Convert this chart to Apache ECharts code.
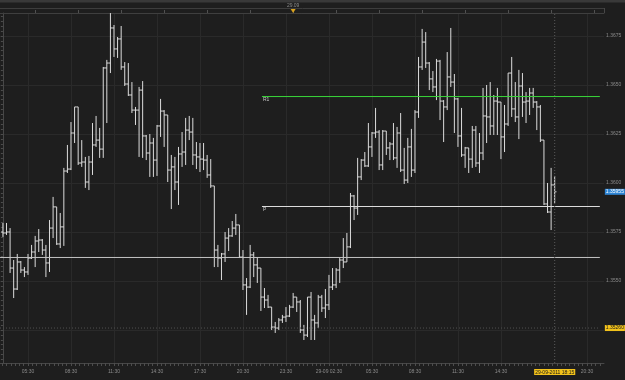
<!DOCTYPE html>
<html><head><meta charset="utf-8">
<script src="https://cdn.jsdelivr.net/npm/echarts@6/dist/echarts.min.js"></script>
<style>html,body{margin:0;padding:0;background:#1e1e1e;}#c{width:625px;height:380px;}</style>
</head><body><div id="c"></div>
<script>
// 15-minute bars, first bar 28-09-2011 03:45 (index 0)
const opens = [
1.35750,1.35745,1.35750,1.35566,1.35459,1.35597,1.35556,1.35546,1.35617,1.35648,
1.35704,1.35709,1.35658,1.35592,1.35770,1.35878,1.35689,1.35776,1.36061,1.36071,
1.36255,1.36388,1.36102,1.36107,1.36005,1.36107,1.36194,1.36219,1.36173,1.36587,
1.36612,1.36791,1.36684,1.36735,1.36592,1.36505,1.36449,1.36372,1.36372,1.36474,
1.36240,1.36153,1.36204,1.36117,1.36291,1.36367,1.36347,1.36066,1.36082,1.36005,
1.36148,1.36158,1.36270,1.36260,1.36143,1.36133,1.36122,1.36117,1.36041,1.35985,
1.35658,1.35617,1.35638,1.35719,1.35730,1.35770,1.35786,1.35622,1.35480,1.35469,
1.35633,1.35582,1.35566,1.35418,1.35403,1.35367,1.35265,1.35260,1.35301,1.35316,
1.35321,1.35367,1.35418,1.35393,1.35250,1.35224,1.35418,1.35301,1.35286,1.35418,
1.35362,1.35378,1.35469,1.35480,1.35556,1.35607,1.35597,1.35674,1.35934,1.35872,
1.36031,1.36117,1.36087,1.36184,1.36255,1.36260,1.36092,1.36265,1.36179,1.36199,
1.36128,1.36255,1.36066,1.36015,1.36184,1.36066,1.36362,1.36592,1.36719,1.36612,
1.36531,1.36490,1.36622,1.36418,1.36388,1.36541,1.36515,1.36429,1.36240,1.36143,
1.36179,1.36122,1.36270,1.36102,1.36153,1.36342,1.36337,1.36291,1.36418,1.36413,
1.36235,1.36301,1.36561,1.36378,1.36337,1.36495,1.36413,1.36418,1.36459,1.36413,
1.36388,1.36219,1.35893,1.35852,1.35990];
const highs = [
1.35796,1.35796,1.35770,1.35607,1.35638,1.35602,1.35571,1.35638,1.35684,1.35730,
1.35765,1.35714,1.35684,1.35811,1.35929,1.35878,1.35847,1.36077,1.36194,1.36311,
1.36388,1.36388,1.36219,1.36133,1.36138,1.36306,1.36342,1.36281,1.36592,1.36628,
1.36867,1.36806,1.36745,1.36801,1.36617,1.36612,1.36515,1.36388,1.36490,1.36520,
1.36245,1.36250,1.36230,1.36296,1.36429,1.36372,1.36347,1.36143,1.36133,1.36184,
1.36260,1.36332,1.36342,1.36332,1.36209,1.36204,1.36204,1.36143,1.36122,1.35985,
1.35684,1.35643,1.35750,1.35770,1.35806,1.35842,1.35786,1.35658,1.35515,1.35684,
1.35648,1.35622,1.35566,1.35464,1.35429,1.35367,1.35291,1.35311,1.35327,1.35367,
1.35378,1.35439,1.35418,1.35403,1.35276,1.35418,1.35444,1.35327,1.35429,1.35429,
1.35459,1.35531,1.35566,1.35566,1.35617,1.35719,1.35745,1.35949,1.35939,1.36128,
1.36122,1.36158,1.36306,1.36260,1.36383,1.36270,1.36270,1.36265,1.36209,1.36306,
1.36286,1.36357,1.36179,1.36230,1.36276,1.36372,1.36643,1.36786,1.36770,1.36617,
1.36571,1.36633,1.36628,1.36423,1.36668,1.36791,1.36556,1.36434,1.36383,1.36184,
1.36179,1.36291,1.36291,1.36255,1.36485,1.36500,1.36515,1.36449,1.36485,1.36413,
1.36398,1.36561,1.36643,1.36515,1.36577,1.36561,1.36464,1.36485,1.36485,1.36418,
1.36398,1.36219,1.36000,1.36077,1.36036];
const lows = [
1.35725,1.35735,1.35541,1.35413,1.35454,1.35541,1.35520,1.35531,1.35612,1.35571,
1.35648,1.35633,1.35520,1.35546,1.35719,1.35684,1.35668,1.35679,1.36051,1.36066,
1.36204,1.36092,1.36082,1.35975,1.35964,1.36041,1.36184,1.36128,1.36128,1.36306,
1.36561,1.36643,1.36638,1.36577,1.36495,1.36444,1.36357,1.36296,1.36133,1.36128,
1.36117,1.36031,1.36031,1.36036,1.36235,1.36184,1.36005,1.35867,1.35964,1.35888,
1.36082,1.36092,1.36219,1.36092,1.36071,1.36056,1.36066,1.36026,1.35975,1.35571,
1.35571,1.35505,1.35597,1.35653,1.35725,1.35735,1.35617,1.35454,1.35327,1.35464,
1.35520,1.35490,1.35347,1.35362,1.35362,1.35250,1.35235,1.35250,1.35286,1.35291,
1.35316,1.35362,1.35342,1.35235,1.35199,1.35214,1.35199,1.35199,1.35260,1.35342,
1.35311,1.35352,1.35454,1.35464,1.35490,1.35566,1.35597,1.35668,1.35811,1.35837,
1.36015,1.36082,1.36082,1.36133,1.36230,1.36066,1.36066,1.36143,1.36117,1.36117,
1.36077,1.36056,1.35995,1.36000,1.36031,1.36051,1.36332,1.36577,1.36587,1.36474,
1.36464,1.36423,1.36321,1.36209,1.36372,1.36490,1.36255,1.36184,1.36133,1.36077,
1.36051,1.36077,1.36082,1.36051,1.36117,1.36204,1.36245,1.36245,1.36245,1.36122,
1.36158,1.36291,1.36337,1.36311,1.36224,1.36337,1.36306,1.36347,1.36383,1.36270,
1.36209,1.35888,1.35847,1.35760,1.35898];
const closes = [
1.35745,1.35750,1.35566,1.35459,1.35597,1.35556,1.35546,1.35617,1.35648,1.35704,
1.35709,1.35658,1.35592,1.35770,1.35878,1.35689,1.35776,1.36061,1.36071,1.36255,
1.36388,1.36102,1.36107,1.36005,1.36107,1.36194,1.36219,1.36173,1.36587,1.36612,
1.36791,1.36684,1.36735,1.36592,1.36505,1.36449,1.36372,1.36372,1.36474,1.36240,
1.36153,1.36204,1.36117,1.36291,1.36367,1.36347,1.36066,1.36082,1.36005,1.36148,
1.36158,1.36270,1.36260,1.36143,1.36133,1.36122,1.36117,1.36041,1.35985,1.35658,
1.35617,1.35638,1.35719,1.35730,1.35770,1.35786,1.35622,1.35480,1.35469,1.35633,
1.35582,1.35566,1.35418,1.35403,1.35367,1.35265,1.35260,1.35301,1.35316,1.35321,
1.35367,1.35418,1.35393,1.35250,1.35224,1.35418,1.35301,1.35286,1.35418,1.35362,
1.35378,1.35469,1.35480,1.35556,1.35607,1.35597,1.35674,1.35934,1.35872,1.36031,
1.36117,1.36087,1.36184,1.36255,1.36260,1.36092,1.36265,1.36179,1.36199,1.36128,
1.36255,1.36066,1.36015,1.36184,1.36066,1.36362,1.36592,1.36719,1.36612,1.36531,
1.36490,1.36622,1.36418,1.36388,1.36541,1.36515,1.36429,1.36240,1.36143,1.36179,
1.36122,1.36270,1.36102,1.36153,1.36342,1.36337,1.36291,1.36418,1.36413,1.36235,
1.36301,1.36561,1.36378,1.36337,1.36495,1.36413,1.36418,1.36459,1.36413,1.36388,
1.36219,1.35893,1.35852,1.35990,1.35955];

const priceLabels = [1.3550, 1.3575, 1.3600, 1.3625, 1.3650, 1.3675];
const priceGrid = [1.3525, 1.3550, 1.3575, 1.3600, 1.3625, 1.3650, 1.3675];
const timeTickIndex = [7, 19, 31, 43, 55, 67, 79, 91, 103, 115, 127, 139, 163];
const timeTickLabels = ['05:30','08:30','11:30','14:30','17:30','20:30','23:30','29-09 02:30','05:30','08:30','11:30','14:30','20:30'];
const dayTickIndex = [9, 21, 33, 45, 57, 69, 81, 93, 105, 117, 129, 141, 153, 165];
const dayLabelIndex = [81];
const dayLabels = ['29.09'];
const nowIndex = 154;
const nowLabel = '29-09-2011 18:15';
const levelNames = ['R1', 'P', ''];
const levelValues = [1.36441, 1.35880, 1.35620];
const levelColors = ['#3ad83a', '#dcdcdc', '#c4c4c4'];
const levelStart = [72.3, 72.3, -0.8];
const levelEnd = 166.6;
const markerLevel = 1.35260;
const lastPrice = 1.35955;

const xMin = -0.815, xMax = 167.76;
const yMin = 1.350816, yMax = 1.368673;

const FONT = 'Liberation Sans';
const bars = opens.map((o, i) => [i, o, highs[i], lows[i], closes[i]]);
const minorX = [];
for (let k = -6; k <= 134; k++) minorX.push(7 + 1.2 * k);
const minorY = [];
for (let k = 0; k <= 70; k++) minorY.push(+(1.3510 + 0.00025 * k).toFixed(5));

const chart = echarts.init(document.getElementById('c'), null, {renderer: 'canvas'});

// a straight reference line drawn as a two-point line series, with an optional label
function refLine(name, from, to, color, type, label) {
  const s = {
    type: 'line', name: name, data: [from, to], xAxisIndex: 0, yAxisIndex: 0,
    symbol: 'none', showSymbol: false, silent: true, animation: false, clip: false,
    color: color,
    lineStyle: {color: color, width: 1, type: type},
    emphasis: {disabled: true}
  };
  if (label) {
    s.markLine = {silent: true, symbol: ['none', 'none'], animation: false,
      lineStyle: {color: 'rgba(0,0,0,0)', width: 0}, label: label,
      data: [[{coord: from}, {coord: to}]]};
  }
  return s;
}

const extraSeries = levelValues.map((v, i) => refLine('L' + i, [levelStart[i], v], [levelEnd, v],
  levelColors[i], 'solid',
  levelNames[i] ? {show: true, formatter: levelNames[i], position: 'insideStartBottom',
   distance: [1, 1], color: '#c8c8c8', fontSize: 5, fontFamily: FONT} : null));
extraSeries.push(refLine('marker', [xMin, markerLevel], [levelEnd, markerLevel], '#505050', [1, 2],
  {show: true, position: 'end', distance: 5, formatter: markerLevel.toFixed(5),
   backgroundColor: '#f2c21b', color: '#1a1a1a', fontSize: 5, fontFamily: FONT, padding: [1, 1, 0, 1]}));
extraSeries.push(refLine('last', [xMin, lastPrice], [levelEnd, lastPrice], 'rgba(0,0,0,0)', 'solid',
  {show: true, position: 'end', distance: 5, formatter: lastPrice.toFixed(5),
   backgroundColor: '#2f86d6', color: '#ffffff', fontSize: 5, fontFamily: FONT, padding: [1, 1, 0, 1]}));
extraSeries.push(refLine('now', [nowIndex, yMin], [nowIndex, yMax], '#5a5a5a', [1, 2], null));

chart.setOption({
  animation: false,
  backgroundColor: '#1e1e1e',
  grid: {left: 0, right: 21, top: 13, bottom: 17},
  xAxis: [
    {type: 'value', position: 'bottom', min: xMin, max: xMax,
     axisLine: {show: true, lineStyle: {color: '#474747'}},
     axisTick: {show: true, customValues: minorX, length: 3, lineStyle: {color: '#4d4d4d'}},
     axisLabel: {customValues: timeTickIndex.concat([nowIndex]), margin: 6, fontSize: 5, fontFamily: FONT, color: '#8a8a8a',
       formatter: function (v) {
         const k = Math.round(v);
         if (k === nowIndex) return '{hl|' + nowLabel + '}';
         const j = timeTickIndex.indexOf(k);
         return j >= 0 ? timeTickLabels[j] : '';
       },
       rich: {hl: {backgroundColor: '#f2c21b', color: '#1a1a1a', padding: [1, 1, 0, 1], fontSize: 5, fontFamily: FONT}}},
     splitLine: {show: false}},
    {type: 'value', position: 'bottom', min: xMin, max: xMax,
     axisLine: {show: false}, axisLabel: {show: false},
     axisTick: {show: false, customValues: timeTickIndex},
     splitLine: {show: true, lineStyle: {color: '#2a2a2a', width: 1}}},
    {type: 'value', position: 'top', min: xMin, max: xMax,
     axisLine: {show: true, lineStyle: {color: '#3f3f3f'}},
     axisTick: {show: true, customValues: dayTickIndex, length: 3, lineStyle: {color: '#505050'}},
     axisLabel: {customValues: dayLabelIndex, margin: 5, fontSize: 5, fontFamily: FONT, color: '#8a8a8a',
       formatter: function (v) { const j = dayLabelIndex.indexOf(Math.round(v)); return j >= 0 ? dayLabels[j] : ''; }},
     splitLine: {show: false}}
  ],
  yAxis: [
    {type: 'value', position: 'right', min: yMin, max: yMax,
     axisLine: {show: true, lineStyle: {color: '#474747'}},
     axisTick: {show: true, inside: true, customValues: minorY, length: 2, lineStyle: {color: '#4d4d4d'}},
     axisLabel: {customValues: priceLabels, margin: 2, fontSize: 5, fontFamily: FONT, color: '#8a8a8a',
       formatter: v => v.toFixed(4)},
     splitLine: {show: false}},
    {type: 'value', position: 'right', min: yMin, max: yMax,
     axisLine: {show: false}, axisLabel: {show: false},
     axisTick: {show: false, customValues: priceGrid},
     splitLine: {show: true, lineStyle: {color: '#2a2a2a', width: 1}}}
  ],
  graphic: [
    {type: 'rect', shape: {x: 0, y: 0, width: 625, height: 2.5}, style: {fill: '#393939'}, silent: true},
    {type: 'line', shape: {x1: 0, y1: 8.5, x2: 605, y2: 8.5}, style: {stroke: '#3d3d3d', lineWidth: 1}, silent: true},
    {type: 'line', shape: {x1: 604.5, y1: 8, x2: 604.5, y2: 13}, style: {stroke: '#474747', lineWidth: 1}, silent: true}
  ],
  series: [{
    type: 'custom',
    xAxisIndex: 0, yAxisIndex: 0,
    dimensions: ['i', 'open', 'high', 'low', 'close'],
    encode: {x: 0, y: [1, 2, 3, 4]},
    data: bars,
    renderItem: function (params, api) {
      const x = api.value(0);
      const o = api.coord([x, api.value(1)]);
      const h = api.coord([x, api.value(2)]);
      const l = api.coord([x, api.value(3)]);
      const c = api.coord([x, api.value(4)]);
      const st = {stroke: '#dcdcdc', lineWidth: 1};
      return {type: 'group', children: [
        {type: 'line', shape: {x1: h[0], y1: h[1], x2: l[0], y2: l[1]}, style: st},
        {type: 'line', shape: {x1: o[0] - 1.8, y1: o[1], x2: o[0], y2: o[1]}, style: st},
        {type: 'line', shape: {x1: c[0], y1: c[1], x2: c[0] + 1.8, y2: c[1]}, style: st}
      ]};
    },
    markPoint: {
      silent: true, animation: false,
      data: dayLabelIndex.map(k => ({coord: [k, yMax], symbol: 'triangle', symbolRotate: 180,
        symbolSize: [5, 4], symbolOffset: [0, -2], itemStyle: {color: '#d9a21e'}, label: {show: false}}))
    }
  }].concat(extraSeries)
});
</script></body></html>
